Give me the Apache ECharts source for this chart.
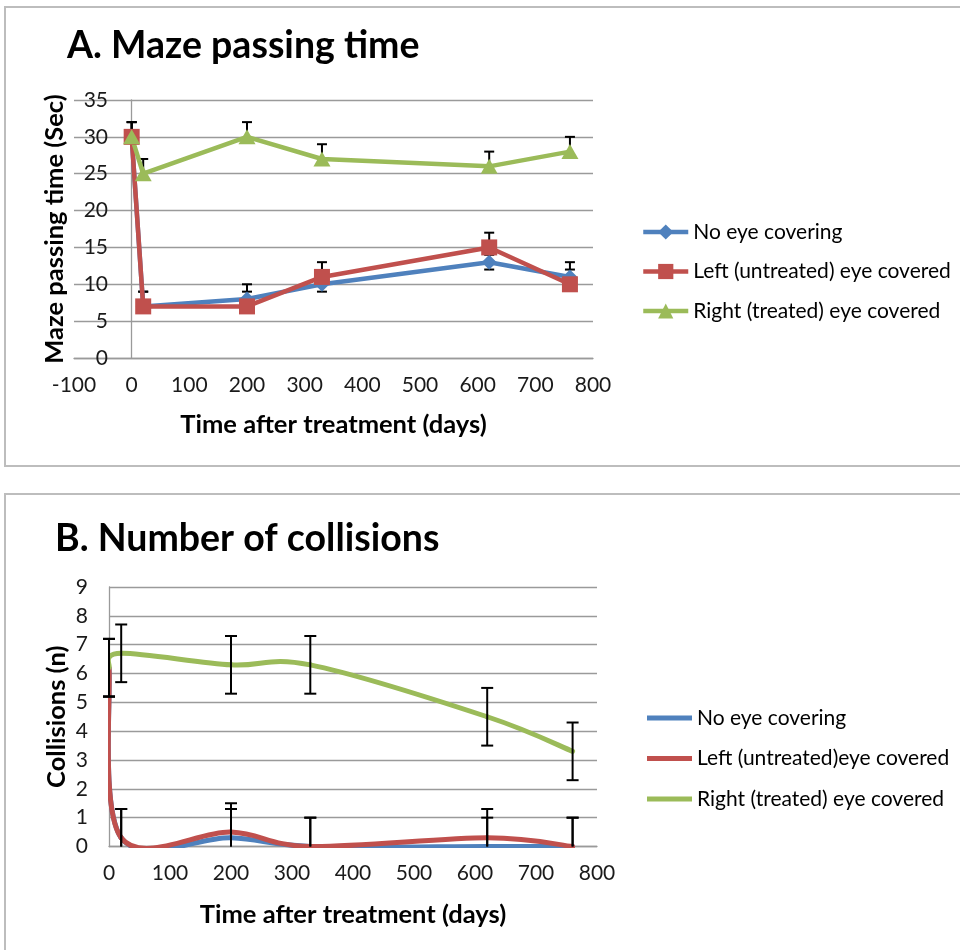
<!DOCTYPE html>
<html>
<head>
<meta charset="utf-8">
<script src="https://cdn.jsdelivr.net/npm/echarts@6/dist/echarts.min.js"></script>
<style>
html,body{margin:0;padding:0;background:#fff;}
#main{width:960px;height:950px;}
</style>
</head>
<body>
<div id="main"></div>
<script>
// ---- Data ----
const xDays = [0, 20, 200, 330, 620, 760];
const seriesNamesA = ['No eye covering', 'Left (untreated) eye covered', 'Right (treated) eye covered'];
const seriesNamesB = ['No eye covering', 'Left (untreated)eye covered', 'Right (treated) eye covered'];

// A. Maze passing time (sec)
const mazeNoCover = [30, 7, 8, 10, 13, 11];
const mazeLeft    = [30, 7, 7, 11, 15, 10];
const mazeRight   = [30, 25, 30, 27, 26, 28];
const mazeNoCoverErrUp   = [2, 2, 2, 1, 1, 2];
const mazeNoCoverErrDown = [0, 0, 0, 1, 1, 0];
const mazeLeftErrUp      = [2, 2, 2, 2, 2, 2];
const mazeLeftErrDown    = [0, 0, 0, 0, 0, 0];
const mazeRightErrUp     = [2, 2, 2, 2, 2, 2];
const mazeRightErrDown   = [0, 0, 0, 0, 0, 0];

// B. Number of collisions (n)
const colNoCover = [6.2, 0.3, 0.3, 0, 0, 0];
const colLeft    = [6.2, 0.3, 0.5, 0, 0.3, 0];
const colRight   = [6.2, 6.7, 6.3, 6.3, 4.5, 3.3];
const colNoCoverErr = [1, 1, 1, 1, 1, 1];
const colLeftErr    = [1, 1, 1, 1, 1, 1];
const colRightErr   = [1, 1, 1, 1, 1, 1];

// Tick labels / axis ranges
const mazeXTicks = { min: -100, max: 800, interval: 100 };
const mazeYTicks = { min: 0, max: 35, interval: 5 };
const colXTicks  = { min: 0, max: 800, interval: 100 };
const colYTicks  = { min: 0, max: 9, interval: 1 };

// ---- Helpers ----
const BLUE = '#4F81BD', RED = '#C0504D', GREEN = '#9BBB59';
const FONT = 'Lato';
function pairs(xs, ys) { return xs.map((x, i) => [x, ys[i]]); }
function errData(xs, ys, up, down) {
  return xs.map((x, i) => [x, ys[i] - down[i], ys[i] + up[i], ys[i]]);
}
function makeErrRender(half) {
  return function (params, api) {
    const cs = params.coordSys;
    const x = api.value(0), lo = api.value(1), hi = api.value(2), mid = api.value(3);
    const top = cs.y, bot = cs.y + cs.height;
    const pHi = api.coord([x, hi]);
    const pLo = api.coord([x, lo]);
    const px = pHi[0];
    const yHi = Math.max(pHi[1], top), yLo = Math.min(pLo[1], bot);
    const st = { stroke: '#000', lineWidth: 2 };
    const children = [{ type: 'line', shape: { x1: px, y1: yHi, x2: px, y2: yLo }, style: st }];
    if (hi > mid && pHi[1] >= top - 0.5) children.push({ type: 'line', shape: { x1: px - half, y1: pHi[1], x2: px + half, y2: pHi[1] }, style: st });
    if (lo < mid && pLo[1] <= bot + 0.5) children.push({ type: 'line', shape: { x1: px - half, y1: pLo[1], x2: px + half, y2: pLo[1] }, style: st });
    return { type: 'group', children };
  };
}
function errSeries(idx, data, half, z) {
  return {
    type: 'custom', xAxisIndex: idx, yAxisIndex: idx, z: z, silent: true,
    renderItem: makeErrRender(half), data: data,
    encode: { x: 0, y: [1, 2] }
  };
}
// Spreadsheet-style smoothed line (cubic Bezier through the data points, positioned via the axis scales)
function smoothSeries(name, xs, ys, color, z) {
  return {
    name: name, type: 'custom', xAxisIndex: 1, yAxisIndex: 1, z: z, silent: true,
    itemStyle: { color: color },
    data: pairs(xs, ys),
    encode: { x: 0, y: 1 },
    renderItem: function (params, api) {
      if (params.dataIndex !== 0) return null;
      const cs = params.coordSys;
      const P = xs.map((x, i) => api.coord([x, ys[i]]));
      const n = P.length;
      const children = [];
      for (let i = 0; i < n - 1; i++) {
        const p0 = P[Math.max(i - 1, 0)], p1 = P[i], p2 = P[i + 1], p3 = P[Math.min(i + 2, n - 1)];
        children.push({
          type: 'bezierCurve',
          shape: {
            x1: p1[0], y1: p1[1], x2: p2[0], y2: p2[1],
            cpx1: p1[0] + (p2[0] - p0[0]) / 6, cpy1: p1[1] + (p2[1] - p0[1]) / 6,
            cpx2: p2[0] - (p3[0] - p1[0]) / 6, cpy2: p2[1] - (p3[1] - p1[1]) / 6
          },
          style: { stroke: color, lineWidth: 5, fill: null, lineCap: 'round', lineJoin: 'round' }
        });
      }
      return {
        type: 'group', children: children,
        clipPath: { type: 'rect', shape: { x: cs.x - 1, y: cs.y, width: cs.width + 4, height: cs.height + 1.5 } }
      };
    }
  };
}

const axisLabelStyle = { color: '#1a1a1a', fontSize: 21, fontFamily: FONT };
const nameStyle = { color: '#000', fontSize: 25.5, fontWeight: 'bold', fontFamily: FONT };
const gridLine = { show: true, lineStyle: { color: '#9a9a9a', width: 1.3 } };

const chart = echarts.init(document.getElementById('main'), null, { renderer: 'canvas' });

const option = {
  backgroundColor: '#fff',
  animation: false,
  graphic: [
    { type: 'rect', shape: { x: 5, y: 7, width: 970, height: 459 }, style: { fill: 'none', stroke: '#bdbdbd', lineWidth: 2 }, z: -10 },
    { type: 'rect', shape: { x: 5, y: 494, width: 970, height: 480 }, style: { fill: 'none', stroke: '#bdbdbd', lineWidth: 2 }, z: -10 }
  ],
  title: [
    { text: 'A. Maze passing time', left: 62, top: 22, textStyle: { fontSize: 37.5, fontWeight: 'bold', fontFamily: FONT, color: '#000' } },
    { text: 'B. Number of collisions', left: 50, top: 515, textStyle: { fontSize: 37.5, fontWeight: 'bold', fontFamily: FONT, color: '#000' } }
  ],
  legend: [
    {
      data: seriesNamesA, orient: 'vertical', left: 641, top: 221, padding: 0,
      itemWidth: 45, itemHeight: 19, itemGap: 17.5,
      lineStyle: { width: 4.5 },
      textStyle: { fontSize: 21, fontFamily: FONT, color: '#000', lineHeight: 22 }
    },
    {
      data: seriesNamesB, orient: 'vertical', left: 647, top: 707, icon: 'rect', padding: 0,
      itemWidth: 45, itemHeight: 5, itemGap: 18.5,
      textStyle: { fontSize: 21, fontFamily: FONT, color: '#000', lineHeight: 22 }
    }
  ],
  grid: [
    { left: 74, top: 100, width: 519, height: 258, outerBoundsMode: 'none', containLabel: false },
    { left: 109, top: 587, width: 488, height: 259.5, outerBoundsMode: 'none', containLabel: false }
  ],
  xAxis: [
    {
      gridIndex: 0, type: 'value', min: mazeXTicks.min, max: mazeXTicks.max, interval: mazeXTicks.interval,
      name: 'Time after treatment (days)', nameLocation: 'middle', nameGap: 54, nameMoveOverlap: false, nameTextStyle: nameStyle,
      axisLine: { show: true, onZero: true, lineStyle: { color: '#9a9a9a', width: 1.3 } },
      axisTick: { show: false }, splitLine: { show: false },
      axisLabel: Object.assign({ margin: 17 }, axisLabelStyle)
    },
    {
      gridIndex: 1, type: 'value', min: colXTicks.min, max: colXTicks.max, interval: colXTicks.interval,
      name: 'Time after treatment (days)', nameLocation: 'middle', nameGap: 55.5, nameMoveOverlap: false, nameTextStyle: nameStyle,
      axisLine: { show: true, lineStyle: { color: '#9a9a9a', width: 1.3 } },
      axisTick: { show: false }, splitLine: { show: false },
      axisLabel: Object.assign({ margin: 16 }, axisLabelStyle)
    }
  ],
  yAxis: [
    {
      gridIndex: 0, type: 'value', min: mazeYTicks.min, max: mazeYTicks.max, interval: mazeYTicks.interval,
      name: 'Maze passing time (Sec)', nameLocation: 'middle', nameGap: 6, nameMoveOverlap: false, nameRotate: 90, nameTextStyle: nameStyle,
      axisLine: { show: true, onZero: true, lineStyle: { color: '#9a9a9a', width: 1.3 } },
      axisTick: { show: false }, splitLine: gridLine,
      axisLabel: Object.assign({ margin: -34 }, axisLabelStyle)
    },
    {
      gridIndex: 1, type: 'value', min: colYTicks.min, max: colYTicks.max, interval: colYTicks.interval,
      name: 'Collisions (n)', nameLocation: 'middle', nameGap: 39, nameMoveOverlap: false, nameRotate: 90, nameTextStyle: nameStyle,
      axisLine: { show: true, lineStyle: { color: '#9a9a9a', width: 1.3 } },
      axisTick: { show: false }, splitLine: gridLine,
      axisLabel: Object.assign({ margin: 21 }, axisLabelStyle)
    }
  ],
  series: [
    // A: error bars (under markers)
    errSeries(0, errData(xDays, mazeNoCover, mazeNoCoverErrUp, mazeNoCoverErrDown), 5, 1),
    errSeries(0, errData(xDays, mazeLeft, mazeLeftErrUp, mazeLeftErrDown), 5, 1),
    errSeries(0, errData(xDays, mazeRight, mazeRightErrUp, mazeRightErrDown), 5, 1),
    {
      name: seriesNamesA[0], type: 'line', xAxisIndex: 0, yAxisIndex: 0, z: 3,
      data: pairs(xDays, mazeNoCover), symbol: 'diamond', symbolSize: 15,
      lineStyle: { color: BLUE, width: 4.5 }, itemStyle: { color: BLUE }
    },
    {
      name: seriesNamesA[1], type: 'line', xAxisIndex: 0, yAxisIndex: 0, z: 3,
      data: pairs(xDays, mazeLeft), symbol: 'rect', symbolSize: 16,
      lineStyle: { color: RED, width: 4.5 }, itemStyle: { color: RED }
    },
    {
      name: seriesNamesA[2], type: 'line', xAxisIndex: 0, yAxisIndex: 0, z: 3,
      data: pairs(xDays, mazeRight), symbol: 'triangle', symbolSize: [17, 15],
      lineStyle: { color: GREEN, width: 4.5 }, itemStyle: { color: GREEN }
    },
    // B: smoothed lines
    smoothSeries(seriesNamesB[0], xDays, colNoCover, BLUE, 2),
    smoothSeries(seriesNamesB[1], xDays, colLeft, RED, 2),
    smoothSeries(seriesNamesB[2], xDays, colRight, GREEN, 2),
    // B: error bars (on top)
    errSeries(1, errData(xDays, colNoCover, colNoCoverErr, colNoCoverErr), 6, 4),
    errSeries(1, errData(xDays, colLeft, colLeftErr, colLeftErr), 6, 4),
    errSeries(1, errData(xDays, colRight, colRightErr, colRightErr), 6, 4)
  ]
};
chart.setOption(option);
</script>
</body>
</html>
